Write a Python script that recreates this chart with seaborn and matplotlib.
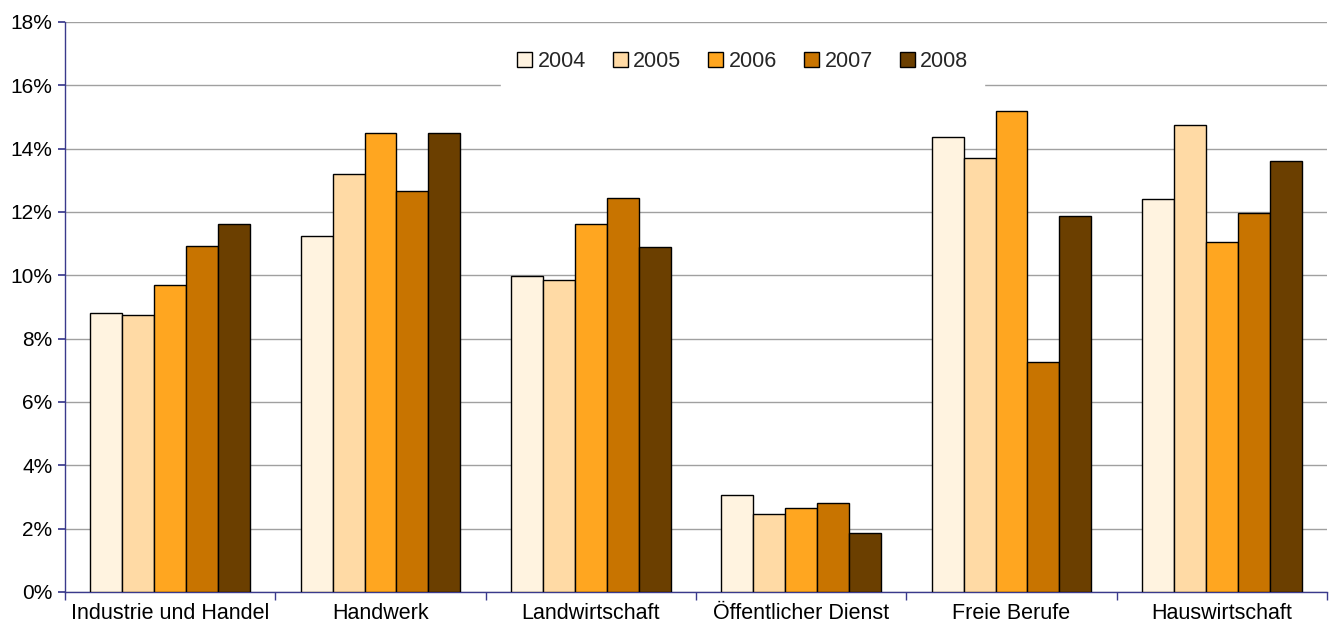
import matplotlib
matplotlib.use("Agg")
import matplotlib.pyplot as plt
import seaborn as sns
import pandas as pd
import numpy as np
from matplotlib.ticker import FixedLocator, FuncFormatter

categories = ["Industrie und Handel", "Handwerk", "Landwirtschaft",
              "Öffentlicher Dienst", "Freie Berufe", "Hauswirtschaft"]
years = ["2004", "2005", "2006", "2007", "2008"]
v2004 = [8.82, 11.25, 9.97, 3.07, 14.38, 12.41]
v2005 = [8.75, 13.20, 9.86, 2.47, 13.70, 14.74]
v2006 = [9.70, 14.48, 11.63, 2.65, 15.18, 11.06]
v2007 = [10.92, 12.67, 12.43, 2.81, 7.26, 11.96]
v2008 = [11.63, 14.48, 10.88, 1.86, 11.86, 13.60]
colors = ["#FFF3E0", "#FFDAA5", "#FFA620", "#C87400", "#6B3F00"]

series = [v2004, v2005, v2006, v2007, v2008]
df = pd.DataFrame([
    {"Bereich": c, "Jahr": y, "Wert": vals[i]}
    for y, vals in zip(years, series)
    for i, c in enumerate(categories)
])

sns.set_theme(style="white")
plt.rcParams["font.family"] = ["Liberation Sans", "DejaVu Sans"]

fig = plt.figure(figsize=(13.29, 6.32), dpi=100)
ax = fig.add_axes([0.0489, 0.0633, 0.9496, 0.9019])

sns.barplot(data=df, x="Bereich", y="Wert", hue="Jahr", order=categories,
            hue_order=years, palette=colors, width=0.76, gap=0,
            edgecolor="black", linewidth=1.0, saturation=1, ax=ax, zorder=3)

navy = "#3A3A8C"
ax.set_xlim(-0.5, len(categories) - 0.5)
ax.set_ylim(0, 18)
ax.set_yticks(np.arange(0, 19, 2))
ax.yaxis.set_major_formatter(FuncFormatter(lambda v, p: f"{v:.0f}%"))
ax.yaxis.grid(True, color="#A0A0A0", linewidth=1.0, zorder=0)
ax.set_axisbelow(True)
ax.set_xlabel("")
ax.set_ylabel("")

for s in ["top", "right"]:
    ax.spines[s].set_visible(False)
for s in ["left", "bottom"]:
    ax.spines[s].set_color(navy)
    ax.spines[s].set_linewidth(1.0)

ax.tick_params(axis="y", which="major", direction="out", length=5,
               color=navy, labelsize=15, labelcolor="black", left=True, pad=4)
ax.tick_params(axis="x", which="major", length=0, labelsize=15.5,
               labelcolor="black", pad=8)
ax.xaxis.set_minor_locator(FixedLocator(np.arange(-0.5, len(categories), 1.0)))
ax.tick_params(axis="x", which="minor", direction="out", length=6,
               color=navy, bottom=True)

leg = ax.legend(loc="center", bbox_to_anchor=(0.537, 0.93), ncol=5,
                frameon=True, fontsize=15.5, handlelength=0.7, handleheight=0.7,
                handletextpad=0.25, columnspacing=1.25, borderpad=0.75,
                fancybox=False)
leg.get_frame().set_facecolor("white")
leg.get_frame().set_edgecolor("white")
leg.get_frame().set_alpha(1.0)
for h in leg.legend_handles:
    h.set_edgecolor("black")
    h.set_linewidth(1.0)

fig.savefig("out.png", dpi=100)
